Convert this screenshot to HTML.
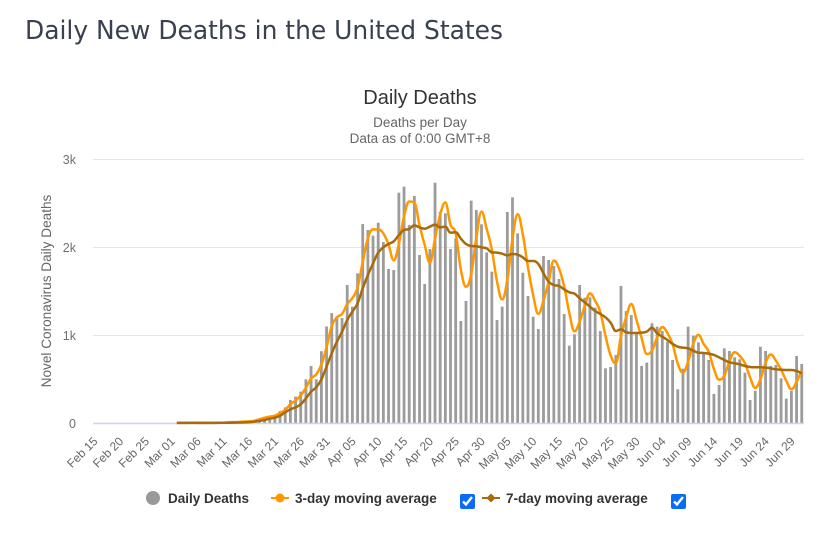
<!DOCTYPE html>
<html lang="en">
<head>
<meta charset="utf-8">
<title>Daily New Deaths in the United States</title>
<style>
html,body{margin:0;padding:0;background:#fff;width:823px;height:547px;overflow:hidden}
#stage{position:relative;width:823px;height:547px}
svg{position:absolute;left:0;top:0}
text{font-family:"Liberation Sans",sans-serif}
input.cb{position:absolute;margin:0;width:15px;height:15px;accent-color:#0a6cf5}
</style>
</head>
<body>
<div id="stage">
<svg id="chart" width="823" height="547" viewBox="0 0 823 547">
  <text x="25" y="39" style="font-family:'DejaVu Sans',sans-serif;font-size:26px" fill="#3a4050" textLength="478" lengthAdjust="spacingAndGlyphs">Daily New Deaths in the United States</text>
  <text x="420" y="104" text-anchor="middle" font-size="20" fill="#333">Daily Deaths</text>
  <text x="420" y="127" text-anchor="middle" font-size="13.5" fill="#666">Deaths per Day</text>
  <text x="420" y="143" text-anchor="middle" font-size="13.5" fill="#666">Data as of 0:00 GMT+8</text>
  <text transform="translate(51,291) rotate(-90)" text-anchor="middle" font-size="13.6" fill="#666">Novel Coronavirus Daily Deaths</text>
  <g id="grid"></g>
  <g id="bars"></g>
  <line x1="93" x2="804" y1="423.5" y2="423.5" stroke="#ccd6eb" stroke-width="1.5"></line>
  <g id="lines"></g>
  <g id="xticks"></g>
  <g id="legend">
    <g>
      <circle cx="153" cy="498" r="7" fill="#999"></circle>
      <text x="168" y="503" font-size="13.5" font-weight="bold" fill="#333">Daily Deaths</text>
    </g>
    <g>
      <line x1="271" x2="289" y1="498" y2="498" stroke="#ff9800" stroke-width="2"></line>
      <circle cx="280" cy="498" r="4.5" fill="#ff9800"></circle>
      <text x="295" y="503" font-size="13.5" font-weight="bold" fill="#333">3-day moving average</text>
    </g>
    <g>
      <line x1="482" x2="500" y1="498" y2="498" stroke="#a86a0a" stroke-width="2"></line>
      <path d="M491 493.500L495.500 498L491 502.500L486.500 498Z" fill="#a86a0a"></path>
      <text x="506" y="503" font-size="13.5" font-weight="bold" fill="#333">7-day moving average</text>
    </g>
  </g>
</svg>
<input class="cb" id="cb3" type="checkbox" checked style="left:460px;top:494px">
<input class="cb" id="cb7" type="checkbox" checked style="left:671px;top:494px">
</div>
<script>
var yTickValues = [0, 1000, 2000, 3000];
var yTickLabels = ["0", "1k", "2k", "3k"];
var xTickLabels = ["Feb 15","Feb 20","Feb 25","Mar 01","Mar 06","Mar 11","Mar 16","Mar 21","Mar 26","Mar 31","Apr 05","Apr 10","Apr 15","Apr 20","Apr 25","Apr 30","May 05","May 10","May 15","May 20","May 25","May 30","Jun 04","Jun 09","Jun 14","Jun 19","Jun 24","Jun 29"];
var xTickEvery = 5;
var dailyDeaths = [0,0,0,0,0,0,0,0,0,0,0,0,0,0,0,
1,1,5,1,3,2,1,3,4,3,
4,7,6,10,16,20,30,34,42,53,
136,178,261,299,356,496,648,496,816,1097,
1249,1212,1193,1568,1322,1700,2261,2193,2129,2276,
2057,1750,1738,2617,2685,2250,2580,1909,1580,1977,
2731,2400,2383,1977,2098,1159,1386,2527,2420,2258,
1939,1720,1170,1322,2398,2564,2155,1708,1443,1208,
1068,1898,1852,1784,1636,1239,879,1008,1568,1424,
1428,1311,1045,621,636,773,1557,1272,1227,1019,
648,686,1133,1095,1045,924,716,383,617,1095,
992,917,792,716,330,432,848,818,746,724,
572,261,364,867,818,648,659,508,277,364,
761,670];
var avg3 = [null,null,null,null,null,null,null,null,null,null,null,null,null,null,null,
1,1,2,3,2,2,2,2,3,3,
8,10,12,15,19,25,42,60,72,83,
115,150,215,255,315,400,505,552,665,860,
1100,1200,1240,1350,1420,1540,1830,2100,2200,2199,
2154,2028,1848,2035,2347,2517,2505,2246,2023,1822,
2096,2369,2505,2253,2153,1745,1548,1691,2111,2402,
2206,1972,1610,1404,1630,2095,2372,2142,1769,1453,
1240,1391,1606,1845,1757,1553,1251,1042,1152,1333,
1473,1388,1261,992,767,677,989,1201,1352,1173,
965,784,822,971,1091,1021,895,674,572,698,
901,1001,900,808,613,493,537,699,804,763,
681,519,399,497,683,778,708,605,481,383,
467,598];
var avg7 = [null,null,null,null,null,null,null,null,null,null,null,null,null,null,null,
1,1,1,1,2,2,2,2,2,3,
3,4,5,7,10,15,24,34,49,60,
83,121,155,178,212,280,356,405,496,640,
792,924,1038,1170,1265,1360,1530,1682,1814,1936,
1996,2034,2064,2136,2193,2204,2246,2223,2208,2231,
2254,2223,2231,2163,2167,2095,2034,2011,2008,1996,
1985,1939,1936,1924,1905,1920,1913,1882,1841,1841,
1807,1701,1606,1568,1557,1519,1485,1470,1417,1371,
1322,1273,1239,1201,1140,1045,1064,1030,1023,1023,
1027,1038,1083,1019,981,943,898,867,856,848,
822,799,795,788,773,746,716,689,678,667,
648,636,633,633,629,621,610,606,602,602,
591,564];

function xScale(i){ return 99.3 + 5.165 * i; }
function yScale(v){ return 423 - v * 0.088; }

var SVG_NS = "http://www.w3.org/2000/svg";
function make(tag, parent){
  var el = document.createElementNS(SVG_NS, tag);
  parent.appendChild(el);
  return el;
}

var gridGroup = document.getElementById("grid");
yTickValues.forEach(function(v, k){
  if (v > 0) {
    var gl = make("line", gridGroup);
    
    
    gl.setAttribute("x1", 93);
    gl.setAttribute("x2", 804);
    gl.setAttribute("y1", yScale(v) + 0.5);
    gl.setAttribute("y2", yScale(v) + 0.5);
    gl.setAttribute("stroke", "#e6e6e6");
  }
  var t = make("text", gridGroup);
  
  
  t.setAttribute("x", 76);
  t.setAttribute("y", yScale(v) + 5);
  t.setAttribute("text-anchor", "end");
  t.setAttribute("font-size", "12.5");
  t.setAttribute("fill", "#707070");
  t.textContent = yTickLabels[k];
});

var barGroup = document.getElementById("bars");
dailyDeaths.forEach(function(v, i){
  if (!v) return;
  var r = make("rect", barGroup);
  
  
  r.setAttribute("x", xScale(i) - 1.4);
  r.setAttribute("width", 2.8);
  r.setAttribute("y", yScale(v));
  r.setAttribute("height", 423 - yScale(v));
  r.setAttribute("fill", "#9c9c9c");
});

function splinePath(values){
  var pts = [];
  values.forEach(function(v, i){
    if (v !== null) pts.push([xScale(i), yScale(v)]);
  });
  function conts(k){
    var p = pts[k], a = pts[k-1], b = pts[k+1];
    var lx = (1.5*p[0]+a[0])/2.5, ly = (1.5*p[1]+a[1])/2.5;
    var rx = (1.5*p[0]+b[0])/2.5, ry = (1.5*p[1]+b[1])/2.5;
    var c = ((ry-ly)*(rx-p[0]))/(rx-lx) + p[1] - ry;
    ly += c; ry += c;
    if (ly > a[1] && ly > p[1]) { ly = Math.max(a[1], p[1]); ry = 2*p[1]-ly; }
    else if (ly < a[1] && ly < p[1]) { ly = Math.min(a[1], p[1]); ry = 2*p[1]-ly; }
    if (ry > b[1] && ry > p[1]) { ry = Math.max(b[1], p[1]); ly = 2*p[1]-ry; }
    else if (ry < b[1] && ry < p[1]) { ry = Math.min(b[1], p[1]); ly = 2*p[1]-ry; }
    return [lx, ly, rx, ry];
  }
  var d = "M" + pts[0][0].toFixed(2) + " " + pts[0][1].toFixed(2);
  for (var k = 1; k < pts.length; k++) {
    var c1 = k - 1 > 0 ? conts(k-1) : [0,0,pts[0][0],pts[0][1]];
    var c2 = k < pts.length - 1 ? conts(k) : [pts[k][0],pts[k][1],0,0];
    d += "C" + c1[2].toFixed(2) + " " + c1[3].toFixed(2) + " " + c2[0].toFixed(2) + " " + c2[1].toFixed(2) + " " + pts[k][0].toFixed(2) + " " + pts[k][1].toFixed(2);
  }
  return d;
}

var lineGroup = document.getElementById("lines");
var line3 = make("path", lineGroup);


line3.setAttribute("d", splinePath(avg3));
line3.setAttribute("fill", "none");
line3.setAttribute("stroke", "#ff9800");
line3.setAttribute("stroke-width", "2.5");
line3.setAttribute("stroke-linejoin", "round");
var line7 = make("path", lineGroup);


line7.setAttribute("d", splinePath(avg7));
line7.setAttribute("fill", "none");
line7.setAttribute("stroke", "#a86a0a");
line7.setAttribute("stroke-width", "2.5");
line7.setAttribute("stroke-linejoin", "round");

var tickGroup = document.getElementById("xticks");
xTickLabels.forEach(function(label, k){
  var px = xScale(k * xTickEvery) - 1;
  var py = 442;
  var t = make("text", tickGroup);
  
  
  t.setAttribute("transform", "translate(" + px + "," + py + ") rotate(-45)");
  t.setAttribute("text-anchor", "end");
  t.setAttribute("font-size", "12");
  t.setAttribute("fill", "#666");
  t.textContent = label;
});

document.getElementById("cb3").addEventListener("change", function(e){
  line3.style.display = e.target.checked ? "" : "none";
});
document.getElementById("cb7").addEventListener("change", function(e){
  line7.style.display = e.target.checked ? "" : "none";
});
</script>
</body>
</html>
